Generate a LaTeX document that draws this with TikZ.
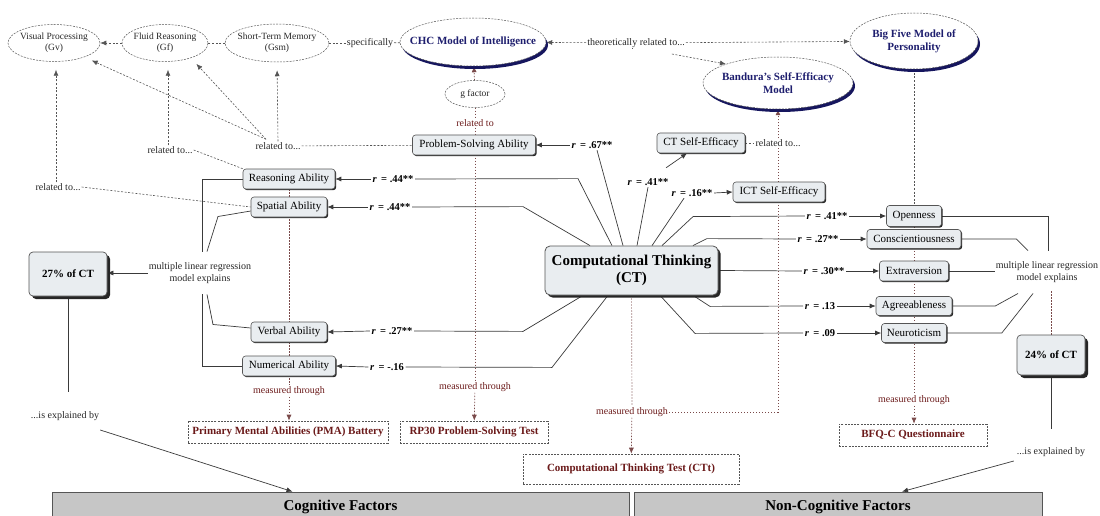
\documentclass[tikz,border=0pt]{standalone}
\usepackage{fontspec}
\setmainfont{Liberation Serif}
\usetikzlibrary{shapes.geometric,arrows.meta,shadows,backgrounds,calc}
\definecolor{navy}{HTML}{1E1E6E}
\definecolor{navysh}{HTML}{16165E}
\definecolor{dred}{HTML}{6B1A1A}
\definecolor{boxfill}{HTML}{E9EDF0}
\definecolor{barfill}{HTML}{C6C6C6}
\definecolor{lin}{HTML}{3A3A3A}
\definecolor{dsh}{HTML}{555555}
\definecolor{mcol}{HTML}{7A4A4A}
\tikzset{
 xarr/.style={-{Latex[length=6pt,width=5pt]}},
 xsol/.style={draw=lin, line width=0.7pt},
 xrel/.style={draw=dsh, line width=0.6pt, dash pattern=on 2pt off 1.6pt},
 xmeas/.style={draw=mcol, line width=0.7pt, dash pattern=on 1.3pt off 1.7pt},
 xgap/.style={shorten >=8pt},
 xell/.style={ellipse, draw=dsh, line width=0.5pt, dash pattern=on 2pt off 1.2pt, inner ysep=0pt, inner xsep=-4pt, align=center, font=\fontsize{9.5}{11}\selectfont, text=black!85},
 xbigell/.style={ellipse, draw=dsh, line width=0.5pt, dash pattern=on 2pt off 1.2pt, fill=white, inner ysep=0pt, align=center, font=\bfseries\fontsize{11}{13}\selectfont, text=navy, drop shadow={shadow xshift=2pt, shadow yshift=-3pt, fill=navysh, opacity=1}},
 xbox/.style={rectangle, rounded corners=3pt, draw=dsh, line width=0.6pt, fill=boxfill, inner sep=2pt, minimum height=20pt, font=\fontsize{11}{13}\selectfont, drop shadow={shadow xshift=1.2pt, shadow yshift=-1.2pt, fill=black!85, opacity=1}},
 xctbox/.style={rectangle, rounded corners=5pt, draw=dsh, line width=0.8pt, fill=boxfill, inner sep=2pt, align=center, font=\bfseries\fontsize{15}{17}\selectfont, drop shadow={shadow xshift=2.5pt, shadow yshift=-2.5pt, fill=black!85, opacity=1}},
 xpbox/.style={rectangle, rounded corners=4pt, draw=dsh, line width=0.7pt, fill=boxfill, inner sep=2pt, font=\bfseries\fontsize{11}{13}\selectfont, drop shadow={shadow xshift=3pt, shadow yshift=-3pt, fill=black!85, opacity=1}},
 xmbox/.style={rectangle, draw=dsh, line width=0.6pt, dash pattern=on 2pt off 1.2pt, fill=white, minimum height=22pt, inner sep=2pt, font=\bfseries\fontsize{11}{13}\selectfont, text=dred},
 xtxt/.style={font=\fontsize{10}{11.5}\selectfont, text=black!85, inner sep=1pt, align=center},
 xmtxt/.style={xtxt, text=dred},
 xrlab/.style={font=\bfseries\fontsize{10.5}{12}\selectfont, inner sep=1.5pt},
 xbar/.style={rectangle, draw=dsh, line width=0.8pt, fill=barfill, inner sep=0pt, minimum height=30pt, font=\bfseries\fontsize{15}{17}\selectfont}
}
\begin{document}
\begin{tikzpicture}[x=1pt,y=-1pt]
\useasboundingbox (0,0) rectangle (1100,516);
% top ellipses
\node[xell, minimum width=92pt, minimum height=37pt] (gv) at (54,43) {Visual Processing\\(Gv)};
\node[xell, minimum width=86pt, minimum height=37pt] (gf) at (165,43) {Fluid Reasoning\\(Gf)};
\node[xell, minimum width=104pt, minimum height=38pt, inner xsep=-5.5pt] (gsm) at (277,43) {Short-Term Memory\\(Gsm)};
\node[xtxt] (spec) at (370,43) {specifically};
\node[xbigell, minimum width=146pt, minimum height=48pt, inner xsep=-14pt] (chc) at (473,42) {CHC Model of Intelligence};
\node[xtxt] (theo) at (636,43) {theoretically related to...};
\node[xbigell, minimum width=128pt, minimum height=56pt] (big) at (914,41) {Big Five Model of\\Personality};
\node[xbigell, minimum width=150pt, minimum height=52pt, inner xsep=-5pt] (band) at (778,83) {Bandura's Self-Efficacy\\Model};
\node[xell, minimum width=60pt, minimum height=27pt] (gfac) at (475,94) {g factor};
\node[xmtxt] (gfrel) at (475,123) {related to};
% cognitive
\node[xbox, minimum width=123pt] (psa) at (474,145) {Problem-Solving Ability};
\node[xtxt] (rel1) at (278,146) {related to...};
\node[xtxt] (rel2) at (170,150) {related to...};
\node[xtxt] (rel3) at (58,187) {related to...};
\node[xbox, minimum width=92pt] (reason) at (289,179) {Reasoning Ability};
\node[xbox, minimum width=76pt] (spatial) at (289,207) {Spatial Ability};
\node[xbox, minimum width=76pt] (verbal) at (289,332) {Verbal Ability};
\node[xbox, minimum width=93pt] (numer) at (289,366) {Numerical Ability};
\node[xmtxt] (meas1) at (289,391) {measured through};
\node[xmbox, minimum width=200pt] (pma) at (288,432) {Primary Mental Abilities (PMA) Battery};
\node[xmtxt] (meas2) at (475,387) {measured through};
\node[xmbox, minimum width=148pt] (rp30) at (474,432) {RP30 Problem-Solving Test};
% CT
\node[xctbox, minimum width=173pt, minimum height=49pt] (ct) at (631.5,270.5) {Computational Thinking\\(CT)};
\node[xbox, minimum width=88pt] (ctse) at (701,143) {CT Self-Efficacy};
\node[xtxt] (ctserel) at (778,143) {related to...};
\node[xbox, minimum width=92pt] (ict) at (779,192) {ICT Self-Efficacy};
% personality
\node[xbox, minimum width=55pt, minimum height=21pt] (open) at (914,216) {Openness};
\node[xbox, minimum width=94pt, minimum height=19pt] (consc) at (914,239) {Conscientiousness};
\node[xbox, minimum width=69pt] (extra) at (914,271) {Extraversion};
\node[xbox, minimum width=76pt, minimum height=19pt] (agree) at (914,306) {Agreeableness};
\node[xbox, minimum width=65pt, minimum height=19pt] (neuro) at (914,333) {Neuroticism};
\node[xmtxt] (meas3) at (914,400) {measured through};
\node[xmbox, minimum width=148pt] (bfq) at (913,435) {BFQ-C Questionnaire};
\node[xmtxt] (meas4) at (632,412) {measured through};
\node[xmbox, minimum width=216pt, minimum height=30pt] (ctt) at (631,469) {Computational Thinking Test (CTt)};
% regression
\node[xtxt] (mlr1) at (200,273) {multiple linear regression\\model explains};
\node[xtxt] (mlr2) at (1047,272) {multiple linear regression\\model explains};
\node[xpbox, minimum width=78pt, minimum height=44pt] (b27) at (68,274) {27\% of CT};
\node[xpbox, minimum width=68pt, minimum height=40pt] (b24) at (1051,355) {24\% of CT};
\node[xtxt] (expl1) at (65,416) {...is explained by};
\node[xtxt] (expl2) at (1051,452) {...is explained by};
\node[xbar, minimum width=577pt] (cog) at (340.5,507) {Cognitive Factors};
\node[xbar, minimum width=408pt] (noncog) at (838,507) {Non-Cognitive Factors};
% correlation labels
\node[xrlab] (l67) at (592,145) {\textit{r}\, = .67**};
\node[xrlab] (l44a) at (393,179) {\textit{r}\, = .44**};
\node[xrlab] (l44b) at (390,207) {\textit{r}\, = .44**};
\node[xrlab] (l27v) at (392,331) {\textit{r}\, = .27**};
\node[xrlab] (l16n) at (387,367) {\textit{r}\, = -.16};
\node[xrlab] (l41s) at (648,182) {\textit{r}\, = .41**};
\node[xrlab] (l16i) at (692,193) {\textit{r}\, = .16**};
\node[xrlab] (lo) at (827,216) {\textit{r}\, = .41**};
\node[xrlab] (lc) at (818,239) {\textit{r}\, = .27**};
\node[xrlab] (le) at (824,271) {\textit{r}\, = .30**};
\node[xrlab] (la) at (820,306) {\textit{r}\, = .13};
\node[xrlab] (ln) at (820,333) {\textit{r}\, = .09};

\begin{scope}[on background layer]
% top relations
\draw[xrel,xarr] (gf) -- (gv);
\draw[xrel] (gsm) -- (gf);
\draw[xrel] (gsm) -- (spec);
\draw[xrel] (spec) -- (chc);
\draw[xrel,xarr] (theo) -- (chc);
\draw[xrel,xarr] (theo) -- (big);
\draw[xrel,xarr] ([xshift=-14pt,yshift=-11pt]theo.east) -- (band.160);
\draw[xrel] ([xshift=-4pt]theo.south) -- (theo.south -| ct.north);
% g factor
\draw[xmeas,xarr] (gfac) -- (chc);
\draw[xmeas] (gfac) -- (gfrel);
\draw[xmeas] (gfrel.south) -- (meas2.north);
\draw[xmeas,xarr] (meas2) -- (rp30);
% related to (left)
\coordinate (c1) at ($(rel1.north)+(-12,-2)$);
\draw[xrel,xarr,xgap] (rel1.north) -- (gsm.south);
\draw[xrel,xarr,xgap] (c1) -- (gf.-30);
\draw[xrel,xarr,xgap] (c1) -- (gv.-25);
\draw[xrel] (rel1) -- (psa);
\draw[xrel,xarr,xgap] ([xshift=-2pt]rel2.north) -- ([xshift=3pt]gf.south);
\draw[xrel] (rel2.east) -- (reason.north west);
\draw[xrel,xarr,xgap] ([xshift=-2pt]rel3.north) -- ([xshift=2pt]gv.south);
\draw[xrel] (rel3.east) -- (spatial.west);
% measured through columns
\draw[xmeas] (reason.south) -- (meas1.north);
\draw[xmeas,xarr] (meas1) -- (pma.north -| meas1);
\draw[xrel] (big.south) -- (open.north);
\draw[xmeas] (open.south) -- (meas3.north);
\draw[xmeas,xarr] (meas3) -- (bfq.north -| meas3);
\draw[xmeas] (ct) -- (meas4);
\draw[xmeas,xarr] (meas4) -- (ctt);
\draw[xmeas] (meas4.east) -| (ctserel.south);
\draw[xmeas,xarr] (ctserel.north) -- (band.south);
\draw[xrel] (ctse) -- (ctserel);
% regression (left)
\draw[xsol] ([xshift=2pt,yshift=10pt]mlr1.north) |- (reason.west);
\draw[xsol] ([xshift=7pt,yshift=10pt]mlr1.north) -- ++(11,-35) -- ([yshift=-4pt]spatial.west);
\draw[xsol] ([xshift=2pt,yshift=-10pt]mlr1.south) |- (numer.west);
\draw[xsol] ([xshift=7pt,yshift=-10pt]mlr1.south) -- ++(6,30) -- ([yshift=4pt]verbal.west);
\draw[xsol,xarr] (mlr1.west) -- (mlr1.west -| b27.east);
\draw[xsol] (b27.south) -- ++(0,96);
\draw[xsol,xarr] ([yshift=-14pt]expl1.east) -- ([xshift=-48pt]cog.north);
% regression (right)
\draw[xsol] (open.east) -| ([xshift=1pt,yshift=10pt]mlr2.north);
\draw[xsol] (consc.east) -- ++(55,0) -- ([xshift=-19pt,yshift=10pt]mlr2.north);
\draw[xsol] (extra.east) -- (extra.east -| mlr2.west);
\draw[xsol] (agree.east) -- ++(43,0) -- ([xshift=-29pt,yshift=-10pt]mlr2.south);
\draw[xsol] (neuro.east) -- ++(55,0) -- ([xshift=-14pt,yshift=-10pt]mlr2.south);
\draw[xmeas] ([xshift=4pt,yshift=-8pt]mlr2.south) -- (b24.north);
\draw[xsol] (b24.south) -- ++(0,54);
\draw[xsol,xarr] ([xshift=-2pt,yshift=-9pt]expl2.west) -- ([xshift=64pt]noncog.north);
% CT correlations (left)
\draw[xsol] ([xshift=-19.5pt]ct.north) -- ++(-34,-67) -- (l44a.east);
\draw[xsol,xarr] (l44a.west) -- (reason.east);
\draw[xsol] ([xshift=-41.5pt]ct.north) -- ++(-67,-39) -- (l44b.east);
\draw[xsol,xarr] (l44b.west) -- (spatial.east);
\draw[xsol] ([xshift=-48.5pt]ct.south) -- ++(-60,36) -- (l27v.east);
\draw[xsol,xarr] (l27v.west) -- (verbal.east);
\draw[xsol] ([xshift=-23.5pt]ct.south) -- ++(-56,72) -- (l16n.east);
\draw[xsol,xarr] (l16n.west) -- (numer.east);
\draw[xsol] ([xshift=-8.5pt]ct.north) -- ([xshift=5pt]l67.south);
\draw[xsol,xarr] (l67.west) -- (psa.east);
% CT correlations (self-efficacy)
\draw[xsol] ([xshift=5.5pt]ct.north) -- (l41s.south);
\draw[xsol,xarr] ([xshift=-4pt,yshift=9pt]l41s.north east) -- ([xshift=-14pt]ctse.south);
\draw[xsol] ([xshift=20.5pt]ct.north) -- ([xshift=-8pt]l16i.south);
\draw[xsol,xarr] (l16i.east) -- (ict.west);
% CT correlations (personality)
\draw[xsol] ([xshift=30.5pt]ct.north) -- ++(31,-29) -- (lo.west);
\draw[xsol,xarr] (lo.east) -- (open.west);
\draw[xsol] ([xshift=61.5pt]ct.north) -- ++(14,-7) -- (lc.west);
\draw[xsol,xarr] (lc.east) -- (consc.west);
\draw[xsol] (ct.east) -- (le.west);
\draw[xsol,xarr] (le.east) -- (extra.west);
\draw[xsol] ([xshift=61.5pt]ct.south) -- ++(17,11) -- (la.west);
\draw[xsol,xarr] (la.east) -- (agree.west);
\draw[xsol] ([xshift=28.5pt]ct.south) -- ++(35,38) -- (ln.west);
\draw[xsol,xarr] (ln.east) -- (neuro.west);
\end{scope}
\end{tikzpicture}
\end{document}
